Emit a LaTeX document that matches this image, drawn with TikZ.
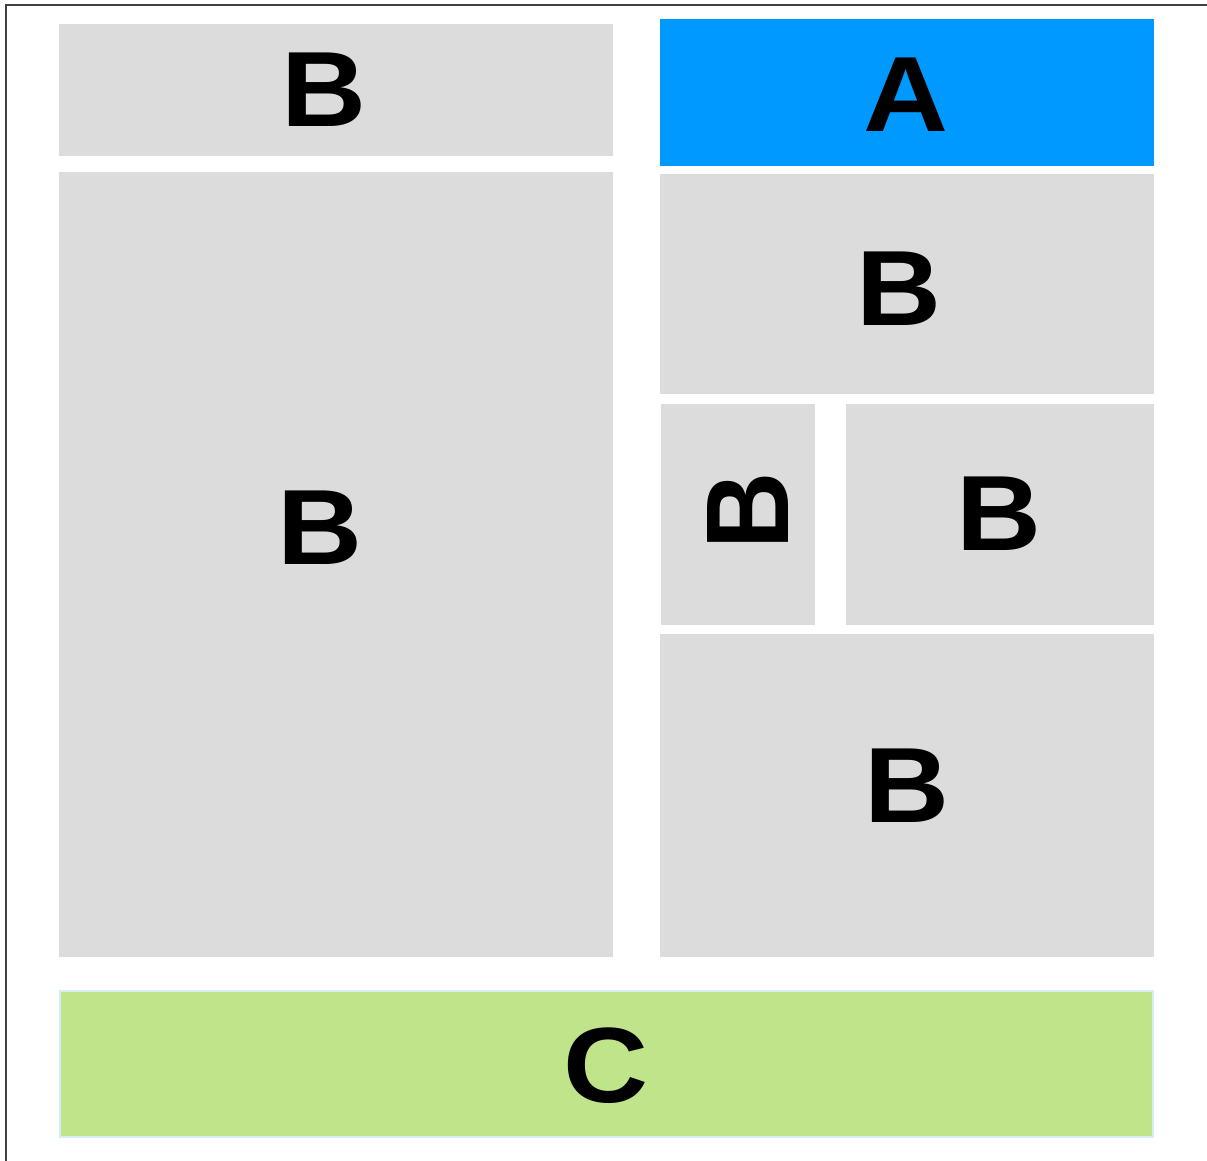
\documentclass[tikz,border=0pt]{standalone}
\usepackage{fontspec}
\setmainfont{Liberation Sans}
\definecolor{boxgray}{HTML}{DCDCDC}
\definecolor{ablue}{HTML}{0099FF}
\definecolor{cgreen}{HTML}{C0E48A}
\definecolor{cedge}{HTML}{D6EEF2}
\definecolor{frame}{HTML}{404040}
\begin{document}
\begin{tikzpicture}[x=0.5pt,y=-0.5pt,
  lbl/.style={font=\fontsize{53.5}{60}\selectfont\bfseries, inner sep=0pt, xscale=1.1, text=black},
  graybox/.style={fill=boxgray}]
\useasboundingbox (0,0) rectangle (1207,1161);
\fill[white] (0,0) rectangle (1207,1161);
\draw[frame, line width=1pt] (5.5,1161) -- (5.5,5.5) -- (1207,5.5);
% boxes
\fill[graybox] (59,24) rectangle (613,156);
\fill[graybox] (59,172) rectangle (613,957);
\fill[ablue] (660,19) rectangle (1154,166);
\fill[graybox] (660,174) rectangle (1154,394);
\fill[graybox] (661,404) rectangle (815,625);
\fill[graybox] (846,404) rectangle (1154,625);
\fill[graybox] (660,634) rectangle (1154,957);
\filldraw[fill=cgreen, draw=cedge, line width=0.75pt] (60,991) rectangle (1153,1137);
% labels
\node[lbl] (b1) at (324,90) {B};
\node[lbl] (a) at (906,95) {A};
\node[lbl] (b2) at (320,528) {B};
\node[lbl] (b3) at (899,289) {B};
\node[lbl, rotate=90] (b4) at (748,511) {B};
\node[lbl] (b5) at (999,514) {B};
\node[lbl] (b6) at (907,786) {B};
\node[lbl] (c) at (606,1066) {C};
\end{tikzpicture}
\end{document}
